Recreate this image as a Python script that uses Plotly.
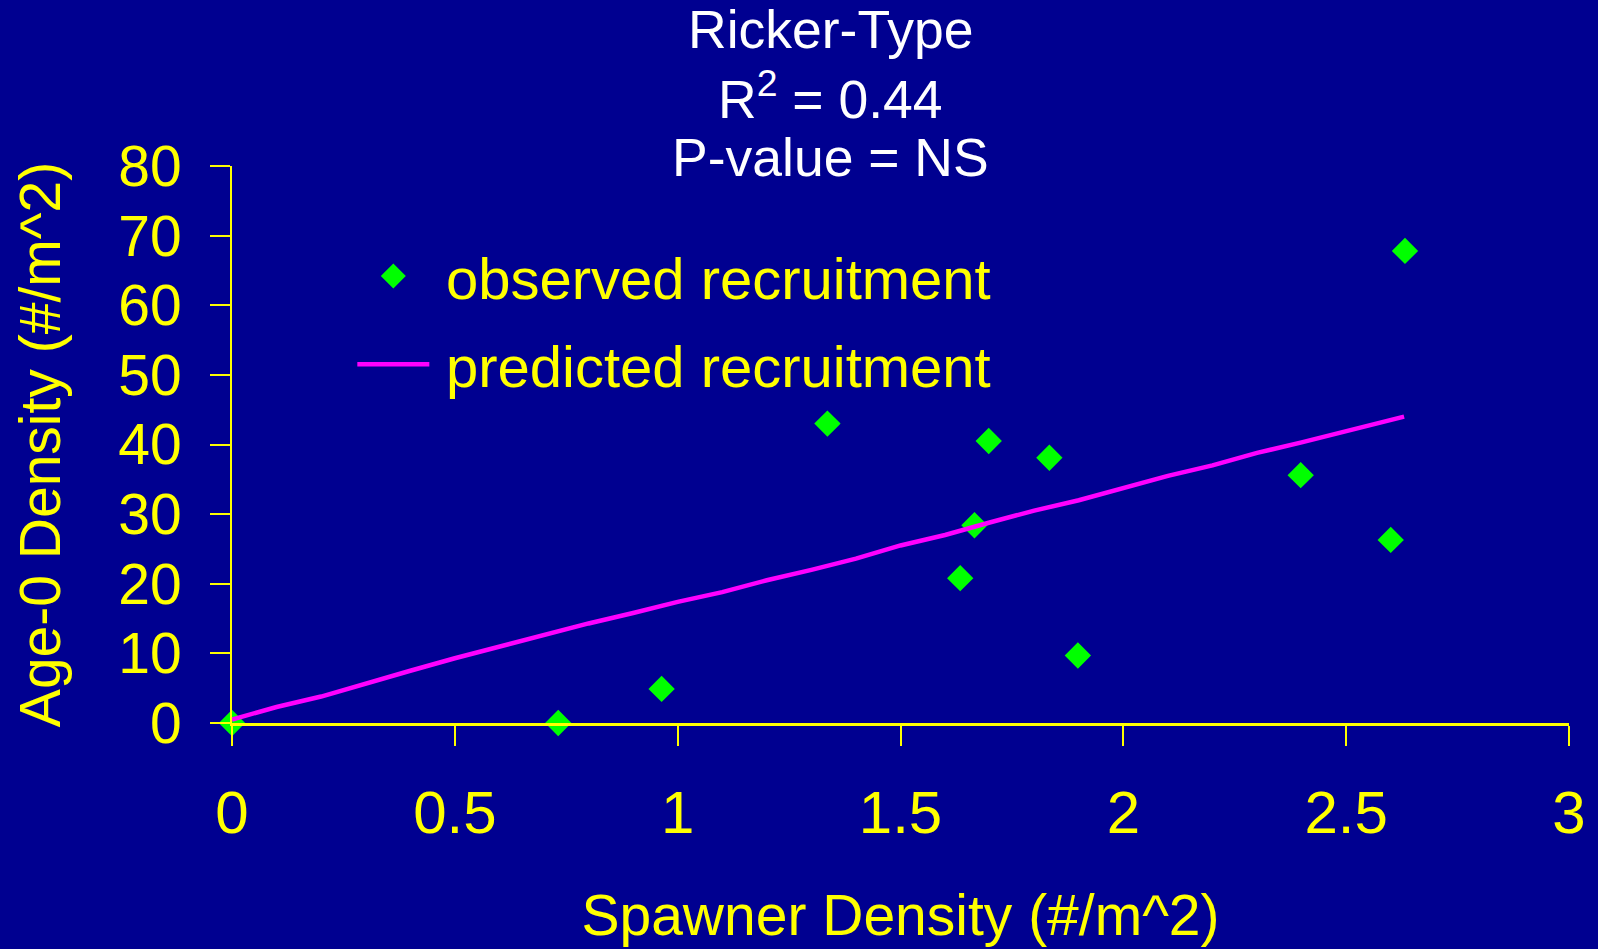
import plotly.graph_objects as go

# Observed recruitment (spawner density vs age-0 density)
obs_x = [0.0, 0.732, 0.964, 1.336, 1.634, 1.666, 1.698, 1.834, 1.898, 2.398, 2.600, 2.632]
obs_y = [0.0, 0.0, 4.9, 43.0, 20.8, 28.4, 40.5, 38.1, 9.7, 35.6, 26.3, 67.8]

# Predicted (Ricker-type) recruitment
pred_x = [0.0, 0.1, 0.2, 0.3, 0.4, 0.5, 0.6, 0.7, 0.8, 0.9, 1.0, 1.1, 1.2, 1.3,
          1.4, 1.5, 1.6, 1.7, 1.8, 1.9, 2.0, 2.1, 2.2, 2.3, 2.4, 2.5, 2.6, 2.63]
pred_y = [0.5, 2.3, 3.8, 5.7, 7.5, 9.3, 11.0, 12.6, 14.3, 15.8, 17.4, 18.8, 20.5, 22.0,
          23.6, 25.5, 27.0, 28.8, 30.5, 32.0, 33.7, 35.5, 37.0, 38.8, 40.3, 41.9, 43.5, 44.0]

title_lines = ["Ricker-Type", "R<sup>2</sup> = 0.44", "P-value = NS"]
x_ticks = [0, 0.5, 1, 1.5, 2, 2.5, 3]
x_tick_labels = ["0", "0.5", "1", "1.5", "2", "2.5", "3"]
y_ticks = [0, 10, 20, 30, 40, 50, 60, 70, 80]

BG = "#000090"
YEL = "#FFFF00"
GRN = "#00FF00"
FONT = "Liberation Sans, Arial, sans-serif"

fig = go.Figure()
fig.add_trace(go.Scatter(
    x=obs_x, y=obs_y, mode="markers", name="\u2009observed recruitment",
    legendgroup="a",
    marker=dict(symbol="diamond", size=17, color=GRN, line=dict(width=3, color=GRN)),
    cliponaxis=False,
))
fig.add_trace(go.Scatter(
    x=pred_x, y=pred_y, mode="lines", name="\u2009predicted recruitment",
    legendgroup="b",
    line=dict(color="#FF00FF", width=4.5),
    cliponaxis=False,
))

for txt, yp in zip(title_lines, [1.245, 1.126, 1.016]):
    fig.add_annotation(text=txt, xref="paper", yref="paper", x=0.448, y=yp,
                       xanchor="center", yanchor="middle", showarrow=False,
                       font=dict(family=FONT, size=53.5, color="white"))

fig.update_layout(
    width=1598, height=949,
    paper_bgcolor=BG, plot_bgcolor=BG,
    margin=dict(l=232, r=27, t=166, b=225),
    font=dict(family=FONT, color=YEL),
    showlegend=True,
    legend=dict(
        x=0.09, y=0.882, xanchor="left", yanchor="top",
        bgcolor="rgba(0,0,0,0)", font=dict(size=58, color=YEL, family=FONT),
        traceorder="grouped", tracegroupgap=10, itemwidth=72,
    ),
    xaxis=dict(
        range=[0, 3], tickvals=x_ticks, ticktext=x_tick_labels,
        showgrid=False, zeroline=False, showline=True, linecolor=YEL, linewidth=3,
        ticks="outside", ticklen=20, tickwidth=2, tickcolor=YEL,
        tickfont=dict(size=60, color=YEL, family=FONT), ticklabelstandoff=15,
        title=dict(text="Spawner Density (#/m^2)", font=dict(size=57, color=YEL, family=FONT), standoff=51),
    ),
    yaxis=dict(
        range=[0, 80], tickvals=y_ticks,
        showgrid=False, zeroline=False, showline=True, linecolor=YEL, linewidth=2,
        ticks="outside", ticklen=20, tickwidth=2, tickcolor=YEL,
        tickfont=dict(size=57, color=YEL, family=FONT), ticklabelstandoff=17,
        title=dict(text="Age-0 Density (#/m^2)", font=dict(size=57, color=YEL, family=FONT), standoff=39),
    ),
)

fig.write_html("out.html", config={"displayModeBar": False},
               post_script="document.body.style.margin='0';")
